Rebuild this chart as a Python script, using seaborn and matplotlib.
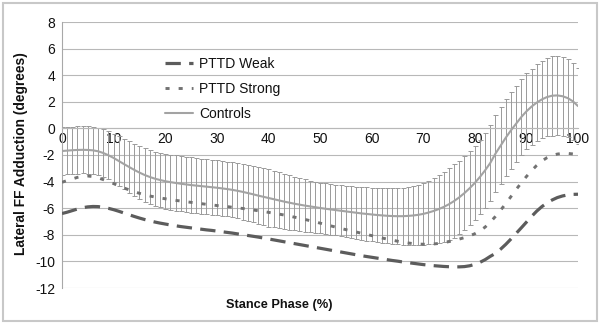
import numpy as np
import pandas as pd
import matplotlib
matplotlib.use("Agg")
import matplotlib.pyplot as plt
import seaborn as sns
from matplotlib.patches import Rectangle

# ---------------- data ----------------
phase = np.arange(0, 101)

controls_mean = [
    -1.70, -1.67, -1.64, -1.62, -1.61, -1.62, -1.65, -1.72, -1.85, -2.02,
    -2.22, -2.45, -2.68, -2.90, -3.12, -3.32, -3.50, -3.65, -3.78, -3.88,
    -3.97, -4.04, -4.10, -4.16, -4.21, -4.26, -4.30, -4.34, -4.38, -4.42,
    -4.46, -4.51, -4.56, -4.62, -4.69, -4.77, -4.86, -4.95, -5.05, -5.14,
    -5.23, -5.32, -5.41, -5.50, -5.58, -5.66, -5.73, -5.80, -5.86, -5.92,
    -5.98, -6.04, -6.09, -6.14, -6.19, -6.24, -6.29, -6.34, -6.39, -6.43,
    -6.47, -6.51, -6.54, -6.57, -6.59, -6.60, -6.60, -6.58, -6.55, -6.50,
    -6.43, -6.33, -6.21, -6.07, -5.90, -5.70, -5.46, -5.18, -4.86, -4.50,
    -4.10, -3.65, -3.15, -2.60, -1.90, -1.30, -0.70, -0.15, 0.35, 0.85,
    1.28, 1.64, 1.94, 2.18, 2.36, 2.46, 2.48, 2.42, 2.28, 2.04,
    1.68,
]

controls_sd = [
    1.78, 1.78, 1.78, 1.78, 1.78, 1.78, 1.78, 1.78, 1.78, 1.80,
    1.82, 1.85, 1.88, 1.92, 1.95, 1.98, 2.00, 2.02, 2.04, 2.05,
    2.06, 2.07, 2.08, 2.08, 2.08, 2.08, 2.07, 2.07, 2.06, 2.06,
    2.05, 2.05, 2.06, 2.07, 2.08, 2.10, 2.11, 2.12, 2.13, 2.14,
    2.15, 2.13, 2.10, 2.07, 2.04, 2.01, 1.98, 1.96, 1.94, 1.92,
    1.91, 1.90, 1.90, 1.90, 1.91, 1.92, 1.94, 1.96, 1.98, 2.00,
    2.02, 2.04, 2.06, 2.08, 2.10, 2.12, 2.15, 2.18, 2.22, 2.26,
    2.30, 2.35, 2.45, 2.55, 2.65, 2.72, 2.75, 2.76, 2.77, 2.78,
    2.79, 2.80, 2.82, 2.85, 2.88, 2.90, 2.90, 2.88, 2.86, 2.85,
    2.85, 2.86, 2.88, 2.92, 2.96, 3.00, 3.00, 2.98, 2.95, 2.90,
    2.85,
]

pttd_strong = [
    -4.05, -3.92, -3.80, -3.68, -3.60, -3.58, -3.62, -3.72, -3.85, -4.00,
    -4.15, -4.32, -4.48, -4.62, -4.76, -4.88, -4.99, -5.08, -5.16, -5.23,
    -5.29, -5.35, -5.41, -5.46, -5.51, -5.56, -5.61, -5.66, -5.71, -5.75,
    -5.80, -5.84, -5.88, -5.93, -5.97, -6.02, -6.07, -6.13, -6.19, -6.25,
    -6.31, -6.38, -6.44, -6.51, -6.59, -6.67, -6.75, -6.84, -6.93, -7.02,
    -7.12, -7.22, -7.32, -7.42, -7.52, -7.61, -7.70, -7.79, -7.88, -7.97,
    -8.06, -8.15, -8.24, -8.32, -8.40, -8.48, -8.55, -8.61, -8.66, -8.69,
    -8.71, -8.71, -8.69, -8.65, -8.59, -8.51, -8.42, -8.32, -8.21, -8.08,
    -7.92, -7.70, -7.42, -7.05, -6.62, -6.15, -5.65, -5.13, -4.60, -4.10,
    -3.62, -3.18, -2.78, -2.45, -2.20, -2.03, -1.93, -1.88, -1.88, -1.92,
    -1.97,
]

pttd_weak = [
    -6.40, -6.30, -6.18, -6.06, -5.96, -5.90, -5.87, -5.88, -5.93, -6.01,
    -6.11, -6.23, -6.36, -6.49, -6.62, -6.74, -6.85, -6.95, -7.04, -7.12,
    -7.19, -7.26, -7.32, -7.38, -7.43, -7.48, -7.53, -7.58, -7.63, -7.67,
    -7.72, -7.77, -7.82, -7.87, -7.93, -7.99, -8.05, -8.11, -8.17, -8.24,
    -8.31, -8.38, -8.45, -8.52, -8.59, -8.66, -8.73, -8.80, -8.87, -8.94,
    -9.01, -9.08, -9.15, -9.22, -9.29, -9.36, -9.43, -9.50, -9.57, -9.63,
    -9.69, -9.75, -9.81, -9.87, -9.93, -9.98, -10.04, -10.09, -10.14, -10.19,
    -10.24, -10.28, -10.32, -10.35, -10.38, -10.40, -10.41, -10.41, -10.39, -10.33,
    -10.22, -10.07, -9.87, -9.62, -9.40, -9.08, -8.72, -8.32, -7.90, -7.48,
    -7.05, -6.62, -6.22, -5.88, -5.60, -5.38, -5.20, -5.08, -5.00, -4.96,
    -4.95,
]

x_ticks = [0, 10, 20, 30, 40, 50, 60, 70, 80, 90, 100]
y_ticks = [-12, -10, -8, -6, -4, -2, 0, 2, 4, 6, 8]
series_names = ["PTTD Weak", "PTTD Strong", "Controls"]

# ---------------- styling ----------------
sns.set_theme(style="white")
plt.rcParams["font.family"] = ["Liberation Sans", "DejaVu Sans"]

fig = plt.figure(figsize=(6.0, 3.24), dpi=100)
ax = fig.add_axes([62 / 600, 36 / 324, 516 / 600, 266 / 324])

df = pd.DataFrame({
    "phase": phase,
    "weak": pttd_weak,
    "strong": pttd_strong,
    "controls": controls_mean,
    "sd": controls_sd,
})

# error bars for controls
ax.errorbar(df["phase"], df["controls"], yerr=df["sd"], fmt="none",
            ecolor="#9a9a9a", elinewidth=0.7, capsize=1.8, capthick=0.7,
            zorder=2)

sns.lineplot(data=df, x="phase", y="weak", ax=ax, color="#5c5c5c", lw=2.3,
             linestyle=(0, (4.8, 2.6)), label=series_names[0], zorder=4)
sns.lineplot(data=df, x="phase", y="strong", ax=ax, color="#727272", lw=2.1,
             linestyle=(0, (1.4, 3.1)), label=series_names[1], zorder=4)
sns.lineplot(data=df, x="phase", y="controls", ax=ax, color="#a3a3a3", lw=1.5,
             label=series_names[2], zorder=3)

ax.set_xlim(0, 100)
ax.set_ylim(-12, 8)
ax.set_xticks(x_ticks)
ax.set_yticks(y_ticks)
ax.set_xticklabels([str(t) for t in x_ticks])
ax.set_yticklabels([str(t) for t in y_ticks])
ax.set_xlabel("")
ax.set_ylabel("")

ax.grid(axis="y", color="#b8b8b8", lw=0.8, zorder=0)
ax.grid(axis="x", visible=False)
ax.set_axisbelow(True)

for s in ["top", "right"]:
    ax.spines[s].set_visible(False)
ax.spines["left"].set_color("#a8a8a8")
ax.spines["left"].set_linewidth(0.8)
ax.spines["bottom"].set_position(("data", 0))
ax.spines["bottom"].set_color("#b8b8b8")
ax.spines["bottom"].set_linewidth(0.8)

ax.tick_params(axis="both", length=0, labelsize=10, labelcolor="#111111")
ax.tick_params(axis="x", pad=2.5)
ax.tick_params(axis="y", pad=5)

leg = ax.legend(loc="upper left", bbox_to_anchor=((165 - 62) / 516, (288 - 57) / 266),
                frameon=False, fontsize=10, handlelength=2.0, handletextpad=0.45,
                labelspacing=0.78, borderpad=0, borderaxespad=0)
for t in leg.get_texts():
    t.set_color("#111111")

fig.text(21 / 600, 1 - 154 / 324, "Lateral FF Adduction (degrees)", rotation=90,
         ha="center", va="center", fontsize=9.9, fontweight="bold", color="#111111")
fig.text(279 / 600, 1 - 305 / 324, "Stance Phase (%)", ha="center", va="center",
         fontsize=9.2, fontweight="bold", color="#111111")

fig.patches.append(Rectangle((3 / 600, 3 / 324), 594 / 600, 318 / 324,
                             transform=fig.transFigure, fill=False,
                             edgecolor="#c8c8c8", lw=1.5))

fig.savefig("out.png", dpi=100)
